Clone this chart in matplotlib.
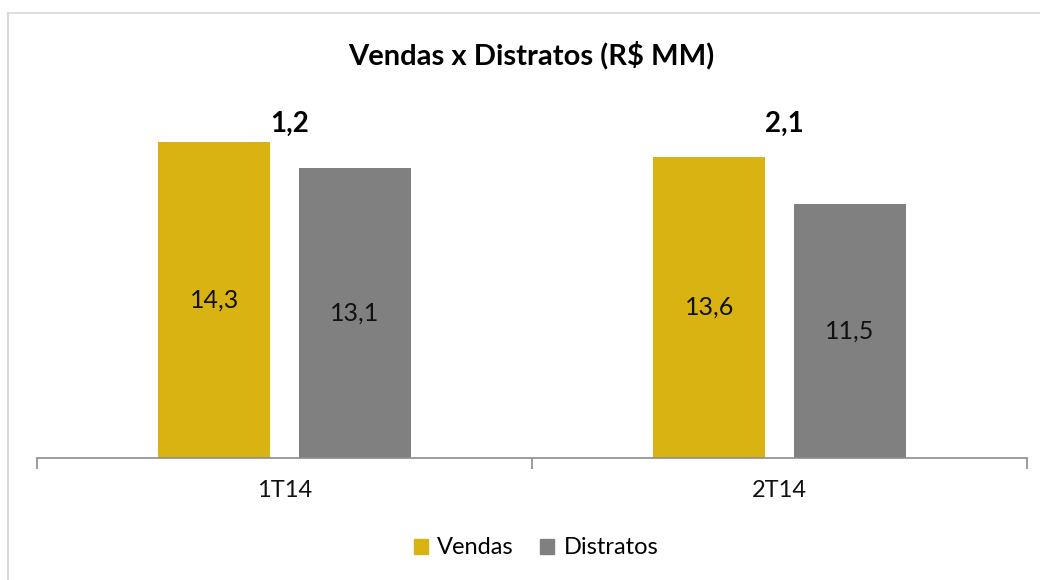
import matplotlib.pyplot as plt
import numpy as np
from matplotlib.lines import Line2D
from matplotlib.patches import Patch

plt.rcParams['font.family'] = ['Lato', 'DejaVu Sans']

# Dados (R$ MM)
trimestres = ['1T14', '2T14']
vendas = [14.3, 13.6]
distratos = [13.1, 11.5]
diferenca = [1.2, 2.1]

cor_vendas = '#D9B311'
cor_distratos = '#808080'

fig = plt.figure(figsize=(10.4, 5.8), dpi=100)
ax = fig.add_axes([37 / 1040, 122 / 580, 990 / 1040, 354 / 580])

x = np.arange(len(trimestres))
largura = 0.226
desloc = 0.142

b1 = ax.bar(x - desloc, vendas, largura, color=cor_vendas, label='Vendas')
b2 = ax.bar(x + desloc, distratos, largura, color=cor_distratos, label='Distratos')

def fmt(v):
    return f"{v:.1f}".replace('.', ',')

# rótulos dentro das barras
for barras, valores in ((b1, vendas), (b2, distratos)):
    for bar, v in zip(barras, valores):
        ax.text(bar.get_x() + bar.get_width() / 2, v / 2, fmt(v),
                ha='center', va='center', fontsize=18, color='#111111')

# diferença entre vendas e distratos
for xi, d in zip(x, diferenca):
    ax.text(xi + 0.01, 15.1, fmt(d), ha='center', va='center',
            fontsize=20, fontweight='bold', color='black')

ax.set_xlim(-0.5, 1.5)
ax.set_ylim(0, 16)

for s in ('top', 'right', 'left'):
    ax.spines[s].set_visible(False)
ax.spines['bottom'].set_color('#8c8c8c')
ax.spines['bottom'].set_linewidth(1.2)
ax.set_yticks([])

# marcas nos limites das categorias, rótulos no centro
ax.set_xticks([-0.5, 0.5, 1.5])
ax.set_xticklabels([])
ax.tick_params(axis='x', which='major', length=8, width=1.2, color='#8c8c8c')
ax.set_xticks(x, minor=True)
ax.set_xticklabels(trimestres, minor=True, fontsize=17, color='#111111')
ax.tick_params(axis='x', which='minor', length=0, pad=16)

fig.text(531 / 1040, 1 - 55 / 580, 'Vendas x Distratos (R$ MM)', ha='center', va='center',
         fontsize=21, fontweight='bold', color='black')

handles = [Patch(color=cor_vendas, label='Vendas'), Patch(color=cor_distratos, label='Distratos')]
fig.legend(handles=handles, loc='center', bbox_to_anchor=(536 / 1040, 1 - 548 / 580),
           ncol=2, frameon=False, fontsize=17, handlelength=0.6, handleheight=0.6,
           handletextpad=0.4, columnspacing=1.1)

# borda da área do gráfico (parcialmente visível)
fig.add_artist(Line2D([7.5 / 1040, 7.5 / 1040], [0, 1 - 12.5 / 580], color='#d9d9d9', lw=1.5))
fig.add_artist(Line2D([7.5 / 1040, 1], [1 - 12.5 / 580, 1 - 12.5 / 580], color='#d9d9d9', lw=1.2))

fig.savefig('out.png', dpi=100)
